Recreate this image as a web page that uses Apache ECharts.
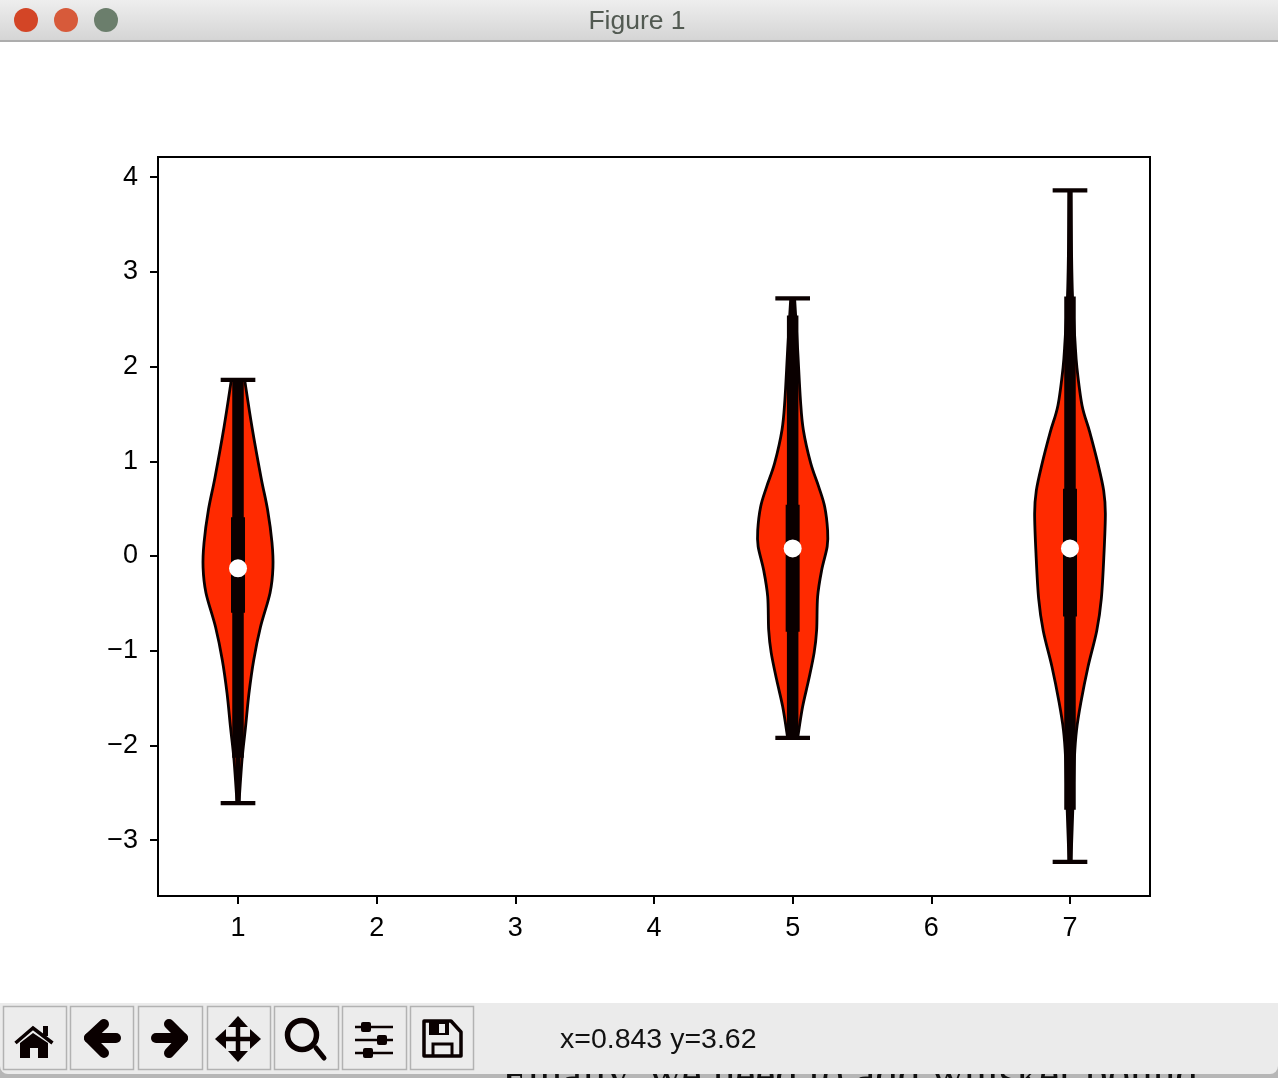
<!DOCTYPE html>
<html>
<head>
<meta charset="utf-8">
<style>html,body{margin:0;padding:0;background:#fff}#c{width:1278px;height:1078px}</style>
<script src="https://cdn.jsdelivr.net/npm/echarts@6/dist/echarts.min.js"></script>
</head>
<body>
<div id="c"></div>
<script>
const positions = [1, 5, 7];
const xTicks = [1, 2, 3, 4, 5, 6, 7];
const yTicks = [-3, -2, -1, 0, 1, 2, 3, 4];
const mins = [-2.61, -1.92, -3.23];
const maxes = [1.86, 2.72, 3.86];
const whiskerLow = [-2.13, -1.90, -2.68];
const whiskerHigh = [1.86, 2.54, 2.74];
const q1 = [-0.60, -0.80, -0.64];
const q3 = [0.41, 0.54, 0.71];
const medians = [-0.13, 0.08, 0.08];
const capHalf = 0.125;

const violin1Y = [1.86, 1.36, 0.83, 0.49, 0.14, -0.12, -0.39, -0.75, -1.10, -1.45, -1.81, -2.15, -2.61];
const violin1W = [0.048, 0.101, 0.166, 0.213, 0.245, 0.252, 0.231, 0.162, 0.113, 0.079, 0.054, 0.029, 0.007];
const violin2Y = [2.72, 2.18, 1.65, 1.33, 0.98, 0.73, 0.52, 0.27, 0.10, -0.15, -0.43, -0.78, -1.02, -1.31, -1.59, -1.92];
const violin2W = [0.014, 0.036, 0.056, 0.077, 0.130, 0.188, 0.231, 0.252, 0.249, 0.209, 0.180, 0.173, 0.155, 0.115, 0.072, 0.036];
const violin3Y = [3.86, 3.23, 2.75, 2.27, 1.99, 1.59, 1.31, 0.97, 0.69, 0.45, 0.02, -0.45, -0.79, -1.17, -1.55, -1.84, -2.13, -2.61, -3.23];
const violin3W = [0.007, 0.011, 0.018, 0.036, 0.050, 0.087, 0.142, 0.202, 0.243, 0.255, 0.245, 0.226, 0.193, 0.130, 0.078, 0.047, 0.032, 0.022, 0.007];

const FONT = '"Liberation Sans", Arial, sans-serif';
const BLACK = '#0a0000';
const violins = [[violin1Y, violin1W], [violin2Y, violin2W], [violin3Y, violin3W]];

// Bezier segments through the read points, so the outline has no corners
function curveThrough(pts) {
  let d = '';
  for (let i = 0; i < pts.length - 1; i++) {
    const p0 = pts[Math.max(i - 1, 0)], p1 = pts[i], p2 = pts[i + 1], p3 = pts[Math.min(i + 2, pts.length - 1)];
    const c1 = [p1[0] + (p2[0] - p0[0]) / 6, p1[1] + (p2[1] - p0[1]) / 6];
    const c2 = [p2[0] - (p3[0] - p1[0]) / 6, p2[1] - (p3[1] - p1[1]) / 6];
    d += ' C' + c1[0] + ' ' + c1[1] + ' ' + c2[0] + ' ' + c2[1] + ' ' + p2[0] + ' ' + p2[1];
  }
  return d;
}

const bodySeries = {
  type: 'custom', coordinateSystem: 'cartesian2d', silent: true, z: 2, clip: true,
  data: positions.map((p, i) => [p, i]),
  renderItem(params, api) {
    const i = api.value(1), p = api.value(0);
    const [ys, ws] = violins[i];
    const right = ys.map((y, k) => api.coord([p + ws[k], y]));
    const left = ys.map((y, k) => api.coord([p - ws[k], y])).reverse();
    const d = 'M' + right[0][0] + ' ' + right[0][1] + curveThrough(right) +
      ' L' + left[0][0] + ' ' + left[0][1] + curveThrough(left) + ' Z';
    return { type: 'path', shape: { pathData: d },
      style: { fill: '#ff2a00', stroke: BLACK, lineWidth: 2.8 } };
  }
};

function vLineSeries(lows, highs, width, z) {
  return {
    type: 'custom', coordinateSystem: 'cartesian2d', silent: true, z, clip: true,
    data: positions.map((p, i) => [p, lows[i], highs[i]]),
    renderItem(params, api) {
      const a = api.coord([api.value(0), api.value(1)]);
      const b = api.coord([api.value(0), api.value(2)]);
      return { type: 'line', shape: { x1: a[0], y1: a[1], x2: b[0], y2: b[1] },
        style: { stroke: BLACK, lineWidth: width, fill: null } };
    }
  };
}
function capSeries(vals) {
  return {
    type: 'custom', coordinateSystem: 'cartesian2d', silent: true, z: 4, clip: true,
    data: positions.map((p, i) => [p, vals[i]]),
    renderItem(params, api) {
      const a = api.coord([api.value(0) - capHalf, api.value(1)]);
      const b = api.coord([api.value(0) + capHalf, api.value(1)]);
      return { type: 'line', shape: { x1: a[0], y1: a[1], x2: b[0], y2: b[1] },
        style: { stroke: BLACK, lineWidth: 4.2, fill: null } };
    }
  };
}

const SLATE = '#b2b2b2';
const btns = [[3,66],[70,133],[138,202],[207,270],[274,338],[342,406],[410,473]];
const g = [];
// text beneath the window
g.push({ type: 'rect', z: 100, shape: { x: 0, y: 1060, width: 1278, height: 18 }, style: { fill: '#b6b6b6' } });
g.push({ type: 'text', z: 101, x: 502, y: 1055, style: { text: 'Finally, we need to add whisker bound.', font: '45px "Liberation Serif", serif', fill: '#111' } });
// toolbar
g.push({ type: 'rect', z: 102, shape: { x: 0, y: 1003, width: 1278, height: 71, r: [0, 0, 8, 8] }, style: { fill: '#ebebeb' } });
btns.forEach(b => g.push({ type: 'rect', z: 103, shape: { x: b[0] + .5, y: 1006.5, width: b[1] - b[0], height: 63 }, style: { fill: '#ececec', stroke: SLATE, lineWidth: 1.5 } }));
g.push({ type: 'text', z: 103, x: 560, y: 1026, style: { text: 'x=0.843 y=3.62', font: '28.5px ' + FONT, fill: '#111' } });
const K = '#0a0000';
const stroke = (w, extra) => Object.assign({ stroke: K, lineWidth: w, fill: null, lineCap: 'round', lineJoin: 'round' }, extra || {});
const ic = (o) => g.push(Object.assign({ z: 104 }, o));
const pl = (points, style) => ic({ type: 'polyline', shape: { points }, style });
const pg = (points, style) => ic({ type: 'polygon', shape: { points }, style });
// home
pl([[15.5,1043],[33,1028],[52.5,1043]], stroke(3.5, { lineCap: 'butt', lineJoin: 'miter' }));
ic({ type: 'rect', shape: { x: 43, y: 1026, width: 5, height: 10 }, style: { fill: K } });
pg([[20,1043],[33,1033],[48,1043],[48,1058],[38,1058],[38,1048],[30,1048],[30,1058],[20,1058]], { fill: K });
// back / forward
pl([[104,1024],[89,1038],[104,1053]], stroke(10));
pl([[89,1038],[116,1038]], stroke(10));
pl([[169,1024],[183,1038],[169,1053]], stroke(10));
pl([[183,1038],[156,1038]], stroke(10));
// move
pg([[238,1016],[248,1027],[228,1027]], { fill: K });
pg([[238,1062],[248,1051],[228,1051]], { fill: K });
pg([[215,1039],[226,1029],[226,1049]], { fill: K });
pg([[261,1039],[250,1029],[250,1049]], { fill: K });
pl([[238,1024],[238,1054]], stroke(4.5, { lineCap: 'butt' }));
pl([[223,1039],[253,1039]], stroke(4.5, { lineCap: 'butt' }));
// zoom
ic({ type: 'circle', shape: { cx: 302, cy: 1035, r: 14.5 }, style: stroke(5.5) });
ic({ type: 'line', shape: { x1: 316, y1: 1048, x2: 324, y2: 1058 }, style: stroke(5) });
// sliders
[[1027, 366], [1040, 382], [1053, 368]].forEach(s => {
  ic({ type: 'line', shape: { x1: 355, y1: s[0], x2: 393, y2: s[0] }, style: stroke(2.5, { lineCap: 'butt' }) });
  ic({ type: 'rect', shape: { x: s[1] - 5, y: s[0] - 5, width: 10, height: 10, r: 2 }, style: { fill: K } });
});
// save
pg([[424,1021],[451,1021],[461,1032],[461,1056],[424,1056]], stroke(3.5));
ic({ type: 'rect', shape: { x: 429, y: 1022, width: 20, height: 13 }, style: { fill: K } });
ic({ type: 'rect', shape: { x: 439, y: 1024, width: 6, height: 9 }, style: { fill: '#ececec' } });
pl([[433,1056],[433,1044],[452,1044],[452,1056]], stroke(3, { lineCap: 'butt', lineJoin: 'miter' }));
// title bar
g.push({ type: 'rect', z: 102, shape: { x: 0, y: 0, width: 1278, height: 40 }, style: { fill: { type: 'linear', x: 0, y: 0, x2: 0, y2: 1, colorStops: [{ offset: 0, color: '#eeeeee' }, { offset: 1, color: '#d5d5d5' }] } } });
g.push({ type: 'rect', z: 102, shape: { x: 0, y: 40, width: 1278, height: 2 }, style: { fill: '#adadad' } });
[[26, '#d34526'], [66, '#d75a3a'], [106, '#6b7e6c']].forEach(c => g.push({ type: 'circle', z: 103, shape: { cx: c[0], cy: 20, r: 12 }, style: { fill: c[1] } }));
g.push({ type: 'text', z: 103, x: 637, y: 22, style: { text: 'Figure 1', font: '26.5px ' + FONT, fill: '#525a52', align: 'center', verticalAlign: 'middle' } });

const chart = echarts.init(document.getElementById('c'), null, { renderer: 'canvas', width: 1278, height: 1078 });
chart.setOption({
  animation: false,
  backgroundColor: '#fff',
  grid: { left: 158, top: 157, width: 992, height: 739, show: true, borderColor: '#000', borderWidth: 2, backgroundColor: 'transparent' },
  xAxis: {
    type: 'value', min: 0.423, max: 7.577, splitLine: { show: false },
    axisLine: { show: true, onZero: false, lineStyle: { color: '#000', width: 2 } },
    axisTick: { show: true, customValues: xTicks, length: 8, inside: false, lineStyle: { color: '#000', width: 2 } },
    axisLabel: { customValues: xTicks, margin: 19, color: '#000', fontFamily: FONT, fontSize: 27, formatter: v => String(v), showMinLabel: true, showMaxLabel: true }
  },
  yAxis: {
    type: 'value', min: -3.59, max: 4.213, splitLine: { show: false },
    axisLine: { show: true, onZero: false, lineStyle: { color: '#000', width: 2 } },
    axisTick: { show: true, customValues: yTicks, length: 8, inside: false, lineStyle: { color: '#000', width: 2 } },
    axisLabel: { customValues: yTicks, margin: 20, color: '#000', fontFamily: FONT, fontSize: 27, padding: [3, 0, 0, 0], formatter: v => String(v).replace('-', '\u2212') }
  },
  series: [
    bodySeries,
    vLineSeries(mins, maxes, 5, 3),
    capSeries(mins),
    capSeries(maxes),
    vLineSeries(whiskerLow, whiskerHigh, 11.5, 5),
    vLineSeries(q1, q3, 14, 6),
    { type: 'scatter', silent: true, z: 7, symbol: 'circle', symbolSize: 18, itemStyle: { color: '#fff', opacity: 1 }, data: positions.map((p, i) => [p, medians[i]]) }
  ],
  graphic: { elements: g }
});
</script>
</body>
</html>
